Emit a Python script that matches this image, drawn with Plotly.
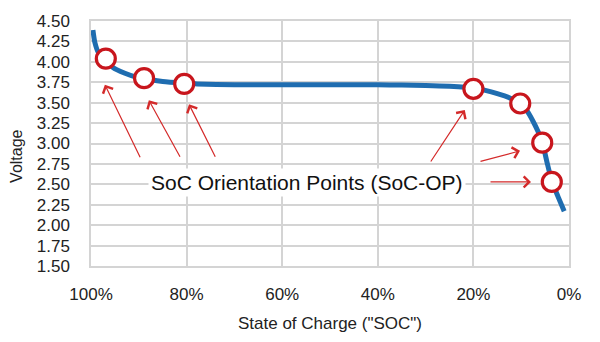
import plotly.graph_objects as go

# Discharge curve (State of Charge in %, Voltage in V)
soc_curve = [99.6, 99.2, 98.5, 96.9, 95.4, 92.9, 90.4, 87.5, 85.0, 80.5, 77.8, 70, 60, 50, 40, 35, 30, 25, 20, 17.5, 15, 12.5, 10.3, 8.8, 7.5, 6.5, 5.6, 4.6, 3.6, 2.3, 1.0]
v_curve = [4.39, 4.24, 4.12, 4.03, 3.93, 3.86, 3.81, 3.78, 3.76, 3.74, 3.73, 3.72, 3.72, 3.72, 3.72, 3.715, 3.71, 3.70, 3.68, 3.65, 3.61, 3.56, 3.49, 3.40, 3.27, 3.15, 3.02, 2.77, 2.54, 2.35, 2.17]

# SoC orientation points
soc_points = [96.9, 88.9, 80.5, 20.0, 10.2, 5.6, 3.6]
v_points = [4.04, 3.80, 3.73, 3.67, 3.49, 3.01, 2.53]

# Arrow heads (SoC %, V) pointing at the orientation points
arrow_head_soc = [97.1, 87.9, 79.5, 21.8, 10.25, 7.95]
arrow_head_v = [3.72, 3.53, 3.48, 3.41, 2.91, 2.53]

x_ticks = [100, 80, 60, 40, 20, 0]
x_tick_labels = ["100%", "80%", "60%", "40%", "20%", "0%"]
y_ticks = [1.50, 1.75, 2.00, 2.25, 2.50, 2.75, 3.00, 3.25, 3.50, 3.75, 4.00, 4.25, 4.50]
y_tick_labels = ["%.2f" % v for v in y_ticks]

label_text = "SoC Orientation Points (SoC-OP)"

FONT = "Liberation Sans, Arial, sans-serif"
RED = "#c8161d"
ARROW = "#d42a2a"
BLUE = "#1f6db0"
GRID = "#d4d4d4"

fig = go.Figure()
fig.add_trace(go.Scatter(x=soc_curve, y=v_curve, mode="lines",
                         line=dict(color=BLUE, width=5, shape="spline", smoothing=0.6),
                         hoverinfo="skip", showlegend=False))
fig.add_trace(go.Scatter(x=soc_points, y=v_points, mode="markers",
                         marker=dict(size=19, color="white", line=dict(color=RED, width=3.2)),
                         showlegend=False))

# tail offsets in pixels relative to each head
tail_offsets = [(36, 74), (32, 58), (27, 54), (-35, 53), (-41, 11), (-42, 0)]
for hx, hy, (axp, ayp) in zip(arrow_head_soc, arrow_head_v, tail_offsets):
    fig.add_annotation(x=hx, y=hy, xref="x", yref="y", ax=axp, ay=ayp,
                       axref="pixel", ayref="pixel", showarrow=True,
                       arrowhead=4, arrowsize=1.8, arrowwidth=1.2, arrowcolor=ARROW,
                       text="")

fig.add_annotation(x=54.8, y=2.52, xref="x", yref="y", text=label_text, showarrow=False,
                   font=dict(family=FONT, size=21, color="#111111"),
                   bgcolor="white", borderpad=2)

fig.add_annotation(x=-0.155, y=0.449, xref="paper", yref="paper", text="Voltage",
                   xanchor="center", yanchor="middle",
                   textangle=-90, showarrow=False,
                   font=dict(family=FONT, size=16, color="#222222"))

fig.update_layout(
    width=600, height=342,
    margin=dict(l=91, r=31, t=19, b=76),
    paper_bgcolor="white", plot_bgcolor="white",
    font=dict(family=FONT, color="#222222"),
)
fig.update_xaxes(
    range=[100, 0], tickvals=x_ticks, ticktext=x_tick_labels,
    tickfont=dict(size=17, color="#222222"), ticklabelstandoff=12,
    showgrid=True, gridcolor=GRID, gridwidth=1.5,
    showline=True, linecolor=GRID, linewidth=1.5, mirror=True, zeroline=False,
    title=dict(text='State of Charge ("SOC")', font=dict(size=17, color="#222222"), standoff=14),
)
fig.update_yaxes(
    range=[1.5, 4.5], tickvals=y_ticks, ticktext=y_tick_labels,
    tickfont=dict(size=17, color="#222222"), ticklabelstandoff=16,
    showgrid=True, gridcolor=GRID, gridwidth=1.5,
    showline=True, linecolor=GRID, linewidth=1.5, mirror=True, zeroline=False,
)

fig.write_html("out.html")
